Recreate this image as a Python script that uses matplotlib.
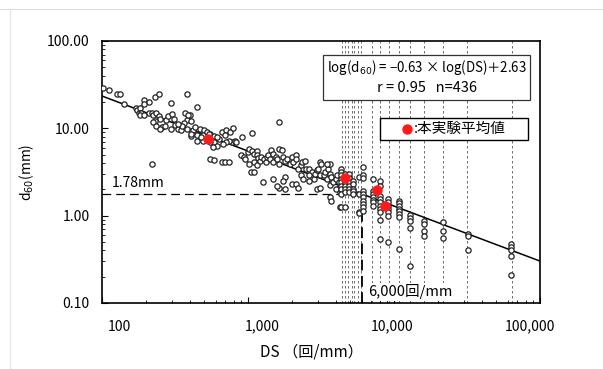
import numpy as np
import matplotlib
matplotlib.use("Agg")
import matplotlib.pyplot as plt
from matplotlib.patches import Rectangle
from matplotlib.ticker import FixedLocator, NullFormatter, FixedFormatter
from matplotlib.transforms import ScaledTranslation

plt.rcParams['font.family'] = ['Noto Sans CJK JP', 'DejaVu Sans']
plt.rcParams['axes.unicode_minus'] = True

# ---- data (log10 values) ----
scatter_log_ds = [
    2.01, 2.05, 2.10, 2.12, 2.15, 2.23, 2.24, 2.26, 2.25, 2.27, 2.26, 2.29, 2.29, 2.32, 2.29,
    2.36, 2.39, 2.32, 2.34, 2.35, 2.37, 2.39, 2.40, 2.36, 2.35, 2.37, 2.41, 2.40, 2.43, 2.44,
    2.45, 2.48, 2.49, 2.47, 2.50, 2.52, 2.54, 2.47, 2.58, 2.65, 2.57, 2.60, 2.58, 2.61, 2.56,
    2.55, 2.58, 2.62, 2.64, 2.61, 2.65, 2.67, 2.70, 2.69, 2.72, 2.74, 2.77, 2.77, 2.80, 2.79,
    2.74, 2.77, 2.34, 2.69, 2.65, 2.52, 2.59, 2.61, 2.68, 2.73, 2.74, 2.76, 2.79,
    2.82, 2.85, 2.88, 2.90, 2.89, 2.87, 2.91, 2.92, 2.85, 2.83, 2.84, 2.96, 3.03, 2.82, 2.84,
    2.87, 2.95, 2.97, 2.98, 3.00, 3.01, 3.03, 3.04, 3.06, 3.06, 3.07, 3.04, 3.06, 3.08, 3.09,
    3.11, 3.12, 3.13, 3.14, 3.15, 3.16, 3.17, 3.19, 3.17, 3.20, 3.21, 3.23, 3.21, 3.24, 3.25,
    3.27, 3.29, 3.30, 3.31, 3.33, 3.33, 3.34, 3.36, 3.37, 3.39, 3.40, 3.42, 3.44, 3.42, 3.45,
    3.46, 3.47, 3.48, 3.49, 3.50, 3.49, 3.52, 3.53, 3.54, 3.55, 3.56, 3.57, 3.56, 3.58, 3.60,
    3.61, 3.62, 3.62, 3.63, 3.56, 3.54, 3.60, 3.56, 3.57, 3.63, 3.10, 3.17, 3.21, 3.25, 3.25,
    3.24, 3.30, 3.33, 3.34, 3.20, 3.02, 3.04, 3.01, 3.42, 3.47, 3.49, 3.36, 3.38, 3.21,
]
scatter_log_d60 = [
    1.46, 1.44, 1.39, 1.39, 1.28, 1.23, 1.21, 1.23, 1.18, 1.17, 1.15, 1.15, 1.32, 1.30, 1.28,
    1.36, 1.39, 1.18, 1.18, 1.15, 1.18, 1.14, 1.11, 1.08, 1.07, 1.03, 1.02, 0.99, 1.03, 1.09,
    1.14, 1.16, 1.11, 0.99, 1.04, 0.99, 0.98, 1.29, 1.39, 1.25, 1.17, 1.15, 1.09, 1.08, 1.06,
    1.03, 0.99, 0.98, 1.01, 0.91, 0.92, 0.99, 0.98, 0.92, 0.96, 0.93, 0.91, 0.84, 0.88, 0.80,
    0.65, 0.64, 0.59, 0.86, 0.86, 1.05, 1.15, 0.94, 0.90, 0.94, 0.84, 0.79, 0.90,
    0.96, 0.98, 0.96, 1.00, 0.84, 0.86, 0.86, 0.84, 0.84, 0.82, 0.92, 0.90, 0.95, 0.61, 0.62,
    0.62, 0.69, 0.67, 0.65, 0.73, 0.76, 0.74, 0.71, 0.74, 0.69, 0.66, 0.61, 0.58, 0.63, 0.67,
    0.65, 0.61, 0.67, 0.70, 0.65, 0.75, 0.71, 0.67, 0.61, 0.65, 0.76, 0.75, 0.59, 0.67, 0.63,
    0.65, 0.59, 0.67, 0.61, 0.69, 0.65, 0.54, 0.58, 0.61, 0.63, 0.54, 0.54, 0.50, 0.46, 0.42,
    0.48, 0.52, 0.54, 0.61, 0.59, 0.46, 0.46, 0.50, 0.42, 0.54, 0.48, 0.44, 0.35, 0.38, 0.42,
    0.46, 0.38, 0.32, 0.27, 0.59, 0.59, 0.31, 0.21, 0.17, 0.10, 0.38, 0.42, 0.32, 0.31, 0.44,
    0.40, 0.36, 0.36, 0.32, 0.34, 0.50, 0.50, 0.59, 0.40, 0.31, 0.32, 0.46, 0.42, 1.07,
]

column_log_ds = [3.635, 3.662, 3.694, 3.721, 3.763, 3.790, 3.854, 3.904, 3.961, 4.032,
                 4.110, 4.205, 4.338, 4.505, 4.800]
column_log_d60 = [
    [0.536, 0.498, 0.460, 0.421, 0.383, 0.345, 0.307, 0.249, 0.096],
    [0.480, 0.410, 0.383, 0.345, 0.307, 0.268, 0.103],
    [0.479, 0.433, 0.383, 0.345, 0.307, 0.268],
    [0.402, 0.364, 0.307, 0.287, 0.249],
    [0.441, 0.249, 0.046, 0.027],
    [0.556, 0.467, 0.429, 0.287, 0.249, 0.211, 0.172, 0.134, 0.096, 0.057],
    [0.421, 0.287, 0.249, 0.218, 0.180, 0.153, 0.115],
    [0.402, 0.345, 0.230, 0.192, 0.153, 0.115, 0.076, 0.038, -0.050, -0.268],
    [0.192, 0.153, 0.115, 0.076, 0.038, 0.000, -0.307],
    [0.172, 0.142, 0.111, 0.080, 0.050, 0.019, -0.011, -0.383],
    [0.011, -0.027, -0.057, -0.142, -0.575],
    [-0.065, -0.100, -0.170, -0.230],
    [-0.077, -0.172, -0.260],
    [-0.210, -0.235, -0.390],
    [-0.326, -0.356, -0.395, -0.460, -0.680],
]

mean_ds = [530, 4620, 7690, 8670]
mean_d60 = [7.6, 2.71, 1.97, 1.28]

test_ds_lines = [4400, 4600, 4850, 5150, 5350, 5650, 5900, 7050, 8000, 9250,
                 10800, 12900, 16000, 21800, 31500, 64000]

slope, intercept = -0.63, 2.63
ds_range = [100, 100000]
ds_crit = 6000
d60_crit = 1.78

x_ticks = [100, 1000, 10000, 100000]
x_ticklabels = ["100", "1,000", "10,000", "100,000"]
y_ticks = [0.1, 1, 10, 100]
y_ticklabels = ["0.10", "1.00", "10.00", "100.00"]

# ---- figure ----
fig = plt.figure(figsize=(6.03, 3.69), dpi=100)
ax = fig.add_axes([102 / 603, 1 - 303 / 369, 438 / 603, 262 / 369])
ax.set_xscale('log')
ax.set_yscale('log')
ax.set_xlim(100, 100000)
ax.set_ylim(0.1, 100)

# scan border lines
fig.add_artist(plt.Line2D([0, 1], [1 - 9 / 369, 1 - 9 / 369], color='#dddddd', lw=0.8))
fig.add_artist(plt.Line2D([10 / 603, 10 / 603], [0, 1 - 9 / 369], color='#e4e4e4', lw=0.8))

for ds in test_ds_lines:
    ax.axvline(ds, color='#555555', lw=0.6, ls=(0, (3, 3)), zorder=1)

# regression line
xr = np.array(ds_range, dtype=float)
ax.plot(xr, 10 ** (slope * np.log10(xr) + intercept), color='black', lw=1.1, zorder=3)

# critical lines
ax.plot([100, ds_crit], [d60_crit, d60_crit], color='black', lw=0.9,
        ls=(0, (7, 4)), zorder=2)
ax.plot([ds_crit, ds_crit], [0.1, d60_crit], color='black', lw=1.3,
        ls=(0, (6, 3)), zorder=2)

# scatter points
sx = 10 ** np.array(scatter_log_ds)
sy = 10 ** np.array(scatter_log_d60)
cx, cy = [], []
for lx, vals in zip(column_log_ds, column_log_d60):
    for v in vals:
        cx.append(10 ** lx)
        cy.append(10 ** v)
allx = np.concatenate([sx, cx])
ally = np.concatenate([sy, cy])
ax.plot(allx, ally, 'o', ms=3.8, mfc='white', mec='#222222', mew=0.9, ls='none', zorder=4)

# means
ax.plot(mean_ds, mean_d60, 'o', ms=7.5, color='#ff1a1a', mec='none', ls='none', zorder=5)

# axes styling
for sp in ax.spines.values():
    sp.set_linewidth(1.2)
    sp.set_color('black')
ax.xaxis.set_major_locator(FixedLocator(x_ticks))
ax.xaxis.set_major_formatter(FixedFormatter(x_ticklabels))
ax.yaxis.set_major_locator(FixedLocator(y_ticks))
ax.yaxis.set_major_formatter(FixedFormatter(y_ticklabels))
ax.xaxis.set_minor_formatter(NullFormatter())
ax.yaxis.set_minor_formatter(NullFormatter())
ax.tick_params(which='both', direction='in', top=False, right=False)
ax.tick_params(which='major', length=4, width=0.8, labelsize=10, color='black')
ax.tick_params(which='minor', length=2.5, width=0.6)
ax.tick_params(axis='x', which='major', pad=12)
ax.tick_params(axis='y', which='major', pad=9)

# shift x tick labels slightly as in the scanned original
fig.canvas.draw()
label_shift_px = [17, 14, -2, -10]
for lbl, dx in zip(ax.get_xticklabels(), label_shift_px):
    lbl.set_transform(lbl.get_transform() + ScaledTranslation(dx / 100, 0, fig.dpi_scale_trans))

ax.set_xlabel("DS （回/mm）", fontsize=11)
ax.xaxis.set_label_coords(0.479, -0.153)
ax.set_ylabel("d$_{60}$(mm)", fontsize=10, labelpad=8)

# equation box
ax.add_patch(Rectangle((0.505, 0.775), 0.472, 0.172, transform=ax.transAxes,
                       facecolor='white', edgecolor='#333333', lw=0.9, zorder=6))
eq = ax.text(0.741, 0.897, "log(d$_{60}$) = −0.63 × log(DS)＋2.63", transform=ax.transAxes,
             ha='center', va='center', fontsize=10.5, zorder=7)
ax.text(0.741, 0.821, "r = 0.95   n=436", transform=ax.transAxes,
        ha='center', va='center', fontsize=10.5, zorder=7)
# fit equation width into the box (~200 px)
r = fig.canvas.get_renderer()
w = eq.get_window_extent(renderer=r).width
target = 200 * fig.dpi / 100
if w > target:
    eq.set_fontsize(10.5 * target / w)

# legend box
ax.add_patch(Rectangle((0.635, 0.622), 0.338, 0.084, transform=ax.transAxes,
                       facecolor='white', edgecolor='black', lw=1.0, zorder=6))
ax.plot([0.696], [0.664], 'o', ms=7.5, color='#ff1a1a', mec='none',
        transform=ax.transAxes, zorder=7)
ax.text(0.712, 0.664, ":本実験平均値", transform=ax.transAxes,
        ha='left', va='center', fontsize=10.5, zorder=7)

# annotations
ax.text(0.023, 0.458, "1.78mm", transform=ax.transAxes, ha='left', va='center',
        fontsize=10, zorder=7)
ax.text(0.607, 0.042, "6,000回/mm", transform=ax.transAxes, ha='left', va='center',
        fontsize=10.5, zorder=7,
        bbox=dict(boxstyle='square,pad=0.1', facecolor='white', edgecolor='none'))

fig.savefig("out.png", dpi=100, facecolor='white')
